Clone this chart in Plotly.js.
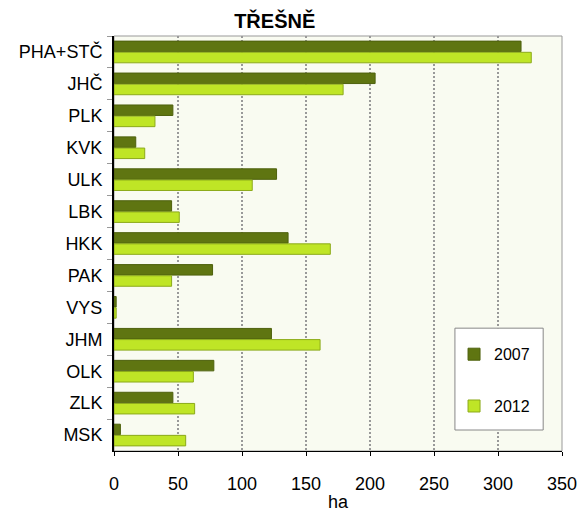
<!DOCTYPE html>
<html><head><meta charset="utf-8">
<script src="https://cdn.plot.ly/plotly-3.0.1.min.js"></script>
<style>body{margin:0;background:#fff}#c{width:587px;height:512px}</style>
</head><body><div id="c"></div>
<script>
const categories = ["PHA+STČ","JHČ","PLK","KVK","ULK","LBK","HKK","PAK","VYS","JHM","OLK","ZLK","MSK"];
const values2007 = [318,204,46,17,127,45,136,77,1.7,123,78,46,5];
const values2012 = [326,179,32,24,108,51,169,45,1.7,161,62,63,56];
const xTicks = [0,50,100,150,200,250,300,350];

const data = [
  {type:'bar', orientation:'h', name:'2007', y:categories, x:values2007,
   marker:{color:'#5f7511', line:{color:'#4e610d', width:1}}, legendgroup:'a'},
  {type:'bar', orientation:'h', name:'2012', y:categories, x:values2012,
   marker:{color:'#bfe526', line:{color:'#8caa1a', width:1}}, legendgroup:'b'}
];
const layout = {
  width:587, height:512,
  margin:{l:114, r:25, t:36, b:61},
  paper_bgcolor:'#ffffff', plot_bgcolor:'#f9fbf1',
  barmode:'group', bargap:0.3, bargroupgap:0.06,
  font:{family:'Liberation Sans, Arial, sans-serif', size:18, color:'#000'},
  title:{text:'<b>TŘEŠNĚ</b>', xref:'container', x:0.468, xanchor:'center', yref:'container', y:0.959, yanchor:'middle', font:{size:20}},
  xaxis:{range:[0,350], tickvals:xTicks, ticktext:xTicks.map(String),
    showgrid:true, gridcolor:'#999', griddash:'2px,2px', gridwidth:2,
    showline:true, linecolor:'#000', linewidth:1, ticks:'outside', ticklen:4, tickcolor:'#000',
    ticklabelstandoff:12, zeroline:false, fixedrange:true,
    title:{text:'ha', font:{size:18}, standoff:5}, tickfont:{size:18}},
  yaxis:{autorange:'reversed', type:'category', showline:true, linecolor:'#000', linewidth:2,
    ticks:'outside', tickson:'boundaries', ticklen:5, tickcolor:'#999', ticklabelstandoff:6,
    tickfont:{size:18}, showgrid:false, zeroline:false, fixedrange:true},
  legend:{x:0.759, y:0.274, xanchor:'left', yanchor:'top', bgcolor:'rgba(0,0,0,0)', borderwidth:0,
    font:{size:16}, tracegroupgap:28, itemwidth:30},
  shapes:[
    {type:'rect', xref:'paper', yref:'paper', x0:0, x1:1, y0:0, y1:1, line:{color:'#999', width:1}, layer:'below'},
    {type:'rect', xref:'paper', yref:'paper', x0:0.761, x1:0.958, y0:0.0506, y1:0.296, fillcolor:'#ffffff', line:{color:'#888', width:1}, layer:'above'}
  ]
};
Plotly.newPlot('c', data, layout, {displayModeBar:false, staticPlot:true});
</script></body></html>
